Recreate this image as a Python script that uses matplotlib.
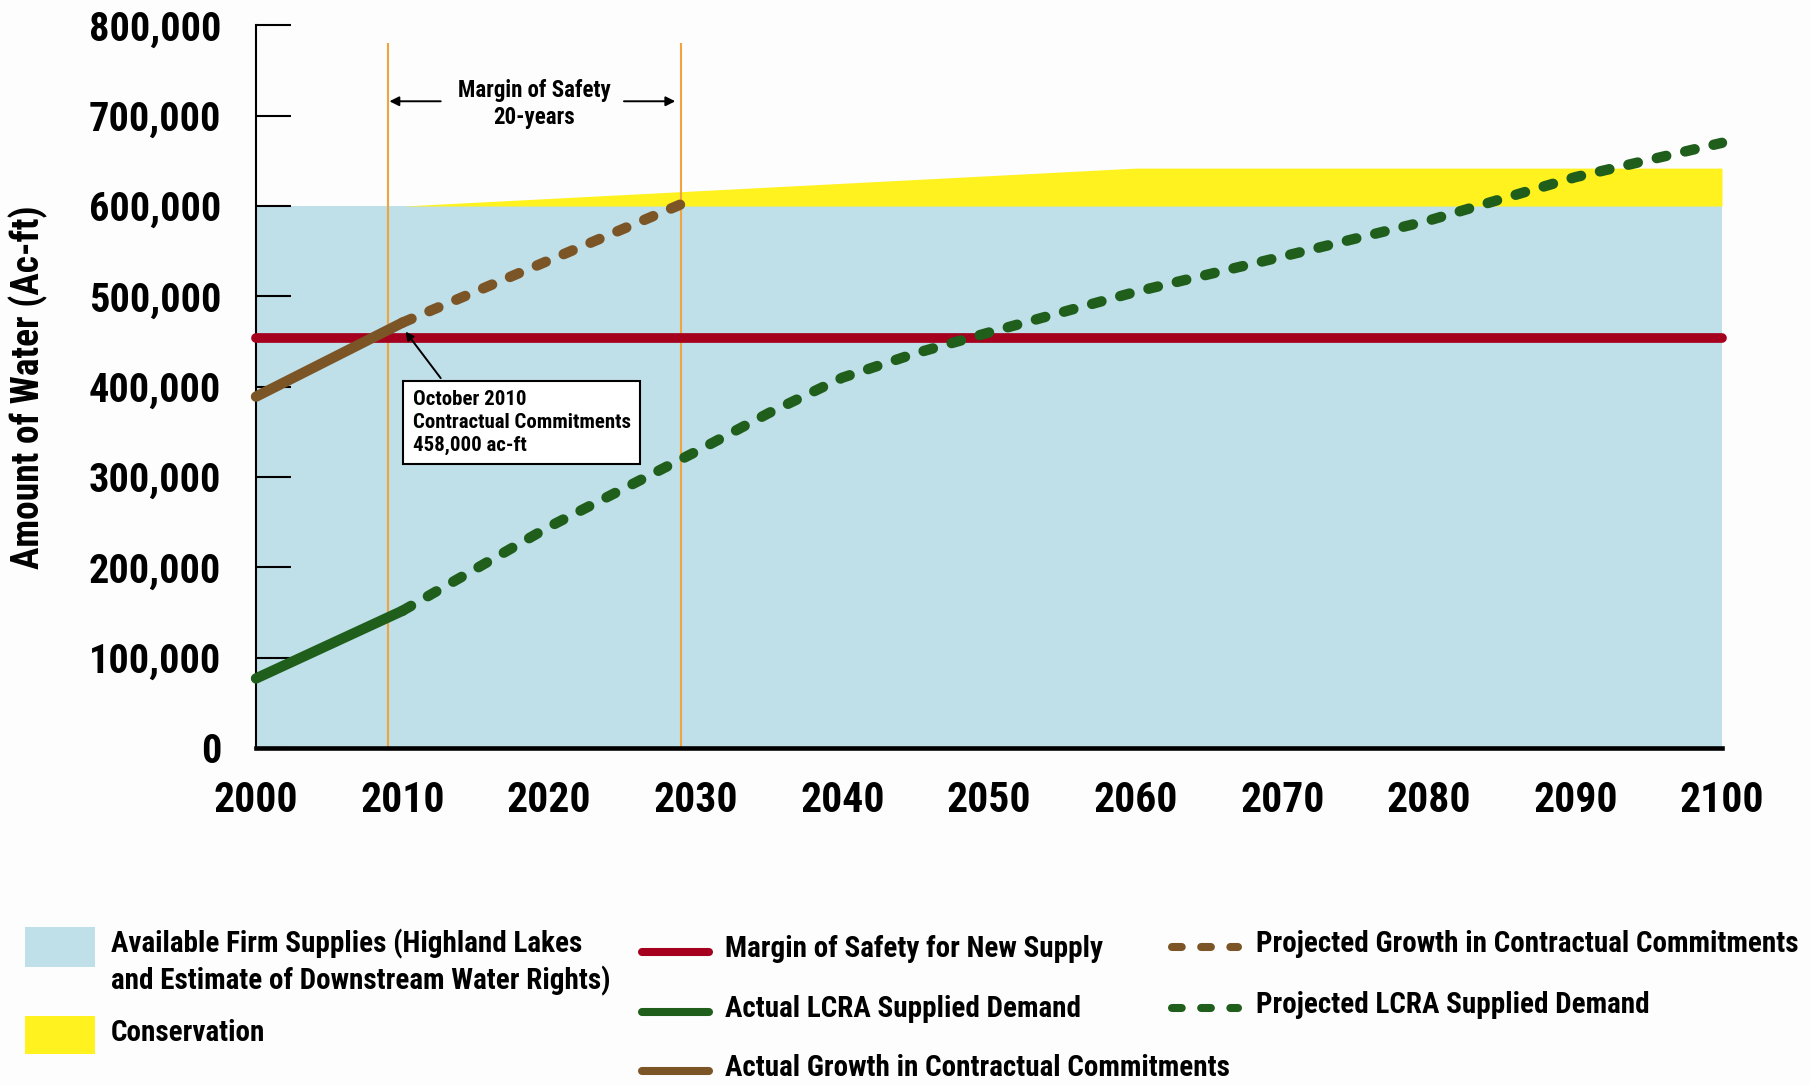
import matplotlib
matplotlib.use('Agg')
import matplotlib.pyplot as plt
from matplotlib import font_manager
from matplotlib.patches import Rectangle
from matplotlib.lines import Line2D

# ---- data ----
supply_years = [2000, 2010, 2060, 2100]
firm_supply = [600000, 600000, 600000, 600000]
conservation = [0, 0, 42000, 42000]

margin_years = [2000, 2100]
margin_level = [454000, 454000]

actual_years = [2000, 2010]
actual_demand = [77000, 152000]
actual_commit = [389000, 471000]

proj_commit_years = [2010, 2029]
proj_commit = [471000, 602000]

proj_years = [2010, 2020, 2030, 2035, 2040, 2045, 2050, 2060, 2070, 2080, 2090, 2100]
proj_demand = [152000, 245000, 328000, 371000, 410000, 437000, 460000, 505000,
               544000, 584000, 632000, 670000]

safety_years = [2009, 2029]
y_ticks = [0, 100000, 200000, 300000, 400000, 500000, 600000, 700000, 800000]
x_ticks = [2000, 2010, 2020, 2030, 2040, 2050, 2060, 2070, 2080, 2090, 2100]

BLUE = '#bfdfe9'
YELLOW = '#fff21f'
RED = '#a5001e'
GREEN = '#1f5f1b'
BROWN = '#7c5526'
ORANGE = '#f0a53c'

# ---- fonts ----
available = {f.name for f in font_manager.fontManager.ttflist}
for fam in ['Liberation Sans Narrow', 'Roboto Condensed', 'DejaVu Sans']:
    if fam in available:
        plt.rcParams['font.family'] = [fam, 'DejaVu Sans']
        break
plt.rcParams['font.stretch'] = 'condensed'
plt.rcParams['font.weight'] = 'bold'
plt.rcParams['lines.scale_dashes'] = False

W, H = 1810, 1085
fig = plt.figure(figsize=(W / 100, H / 100), dpi=100, facecolor='#fdfdfd')
ax = fig.add_axes([256 / W, 1 - 748 / H, (1722 - 256) / W, (748 - 25.4) / H])
ax.set_facecolor('none')

# areas
ax.fill_between(supply_years, 0, firm_supply, color=BLUE, lw=0, zorder=1)
top = [a + b for a, b in zip(firm_supply, conservation)]
ax.fill_between(supply_years, firm_supply, top, color=YELLOW, lw=0, zorder=1)

# 20-year margin of safety markers
ax.vlines(safety_years, 0, 780000, color=ORANGE, lw=1.5, zorder=1.5)

dash = (0, (7, 14))
ax.plot(margin_years, margin_level, color=RED, lw=7, solid_capstyle='round',
        zorder=3, clip_on=False)
ax.plot(actual_years, actual_commit, color=BROWN, lw=7.5, solid_capstyle='round',
        zorder=4, clip_on=False)
ax.plot(proj_commit_years, proj_commit, color=BROWN, lw=7.5, linestyle=dash,
        dash_capstyle='round', zorder=4, clip_on=False)
ax.plot(actual_years, actual_demand, color=GREEN, lw=7.5, solid_capstyle='round',
        zorder=4, clip_on=False)
ax.plot(proj_years, proj_demand, color=GREEN, lw=7.5, linestyle=dash,
        dash_capstyle='round', zorder=4, clip_on=False)

# axes styling
ax.set_xlim(2000, 2100)
ax.set_ylim(0, 800000)
for s in ['top', 'right']:
    ax.spines[s].set_visible(False)
ax.spines['left'].set_linewidth(1.5)
ax.spines['bottom'].set_linewidth(3.3)
ax.set_yticks(y_ticks)
ax.set_yticklabels(['{:,}'.format(v) for v in y_ticks])
ax.set_xticks(x_ticks)
ax.set_xticklabels([str(v) for v in x_ticks])
ax.tick_params(axis='y', direction='in', length=25, width=1.5, pad=25, labelsize=29)
ax.tick_params(axis='x', length=0, pad=23, labelsize=30)
ax.set_ylabel('Amount of Water (Ac-ft)', fontsize=27, fontweight='bold')
ax.yaxis.set_label_coords(-0.142, 0.5)

# margin of safety annotation
ax.text(2019, 713000, 'Margin of Safety\n20-years', ha='center', va='center',
        fontsize=16.5, linespacing=1.2)
arrow = dict(arrowstyle='-|>', color='black', lw=1.4, shrinkA=0, shrinkB=0,
             mutation_scale=14)
ax.annotate('', xy=(2009.1, 716000), xytext=(2012.6, 716000), arrowprops=arrow)
ax.annotate('', xy=(2028.6, 716000), xytext=(2025.1, 716000), arrowprops=arrow)

# October 2010 callout
ax.annotate('October 2010\nContractual Commitments\n458,000 ac-ft',
            xy=(2010.2, 461000), xytext=(2010.7, 396000),
            ha='left', va='top', fontsize=15, linespacing=1.25, zorder=6,
            bbox=dict(boxstyle='square,pad=0.45', fc='white', ec='black', lw=1.5),
            arrowprops=dict(arrowstyle='-|>', color='black', lw=1.4, shrinkB=0,
                            relpos=(0.17, 1), mutation_scale=12))

# ---- legend (drawn in figure pixels) ----
def fx(x):
    return x / W


def fy(y):
    return 1 - y / H


leg_fs = 21
for (y0, y1, col) in [(927, 967, BLUE), (1016, 1054, YELLOW)]:
    fig.add_artist(Rectangle((fx(25), fy(y1)), fx(95) - fx(25), fy(y0) - fy(y1),
                             transform=fig.transFigure, color=col, lw=0))
fig.text(fx(111), fy(944), 'Available Firm Supplies (Highland Lakes',
         fontsize=leg_fs, va='center')
fig.text(fx(111), fy(981), 'and Estimate of Downstream Water Rights)',
         fontsize=leg_fs, va='center')
fig.text(fx(111), fy(1033), 'Conservation', fontsize=leg_fs, va='center')

solid_items = [(952, RED, 'Margin of Safety for New Supply'),
               (1012, GREEN, 'Actual LCRA Supplied Demand'),
               (1071, BROWN, 'Actual Growth in Contractual Commitments')]
for y, col, lab in solid_items:
    fig.add_artist(Line2D([fx(642), fx(709)], [fy(y), fy(y)], transform=fig.transFigure,
                          color=col, lw=5.8, solid_capstyle='round'))
    fig.text(fx(725), fy(y - 3), lab, fontsize=leg_fs, va='center')

dashed_items = [(947, BROWN, 'Projected Growth in Contractual Commitments'),
                (1008, GREEN, 'Projected LCRA Supplied Demand')]
for y, col, lab in dashed_items:
    fig.add_artist(Line2D([fx(1172), fx(1238)], [fy(y), fy(y)], transform=fig.transFigure,
                          color=col, lw=5.8, linestyle=(0, (7, 14)),
                          dash_capstyle='round'))
    fig.text(fx(1256), fy(y - 3), lab, fontsize=leg_fs, va='center')

fig.savefig('out.png', dpi=100, facecolor=fig.get_facecolor())
